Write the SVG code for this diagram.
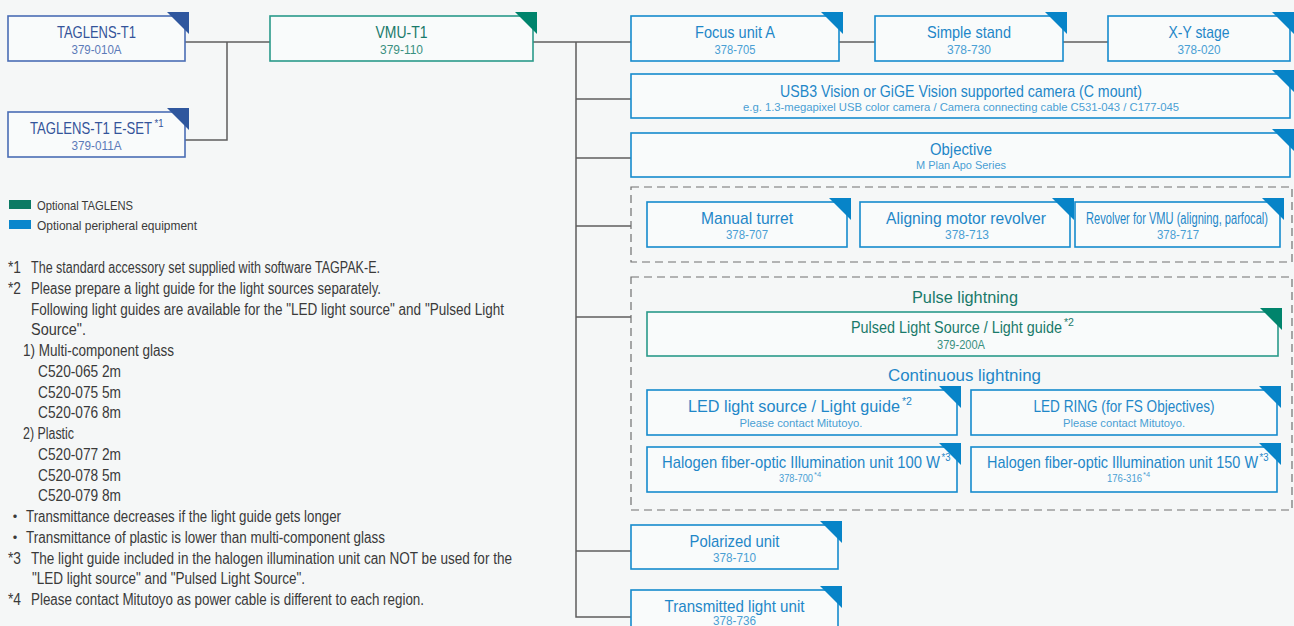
<svg xmlns="http://www.w3.org/2000/svg" width="1294" height="626" viewBox="0 0 1294 626">
<style>
text{font-family:"Liberation Sans",Arial,sans-serif}
.box{fill:#f9fbfb;stroke-width:1.6}
.ind .box{stroke:#4a6db5}.ind .tri{fill:#2f579e}.ind .t{fill:#34549a}.ind .c{fill:#5b7ab8}
.teal .box{stroke:#2a9a8a}.teal .tri{fill:#00846c}.teal .t{fill:#197a6a}.teal .c{fill:#3a9080}
.blue .box{stroke:#168bcd}.blue .tri{fill:#0784c8}.blue .t{fill:#1f87c8}.blue .c{fill:#4a9fd4}
.t{font-size:17px;text-anchor:middle}
.c{font-size:12.5px;text-anchor:middle}
.s{font-size:11.5px}
.st{text-anchor:start}
.sup{font-size:10px;text-anchor:start}
.conn{stroke:#5e5e5e;stroke-width:1.5;fill:none}
.dash{fill:none;stroke:#707070;stroke-width:1.2;stroke-dasharray:8 5}
.fn{font-size:16px;fill:#3a3a3a}
.lg{font-size:13px;fill:#3a3a3a}
.grp1{font-size:17px;text-anchor:middle}
</style>
<rect x="0" y="0" width="1294" height="626" fill="#f5f7f7"/>

<g id="connectors">
<path class="conn" d="M185,42 H270"/>
<path class="conn" d="M227,42 V140 H185"/>
<path class="conn" d="M533,42 H631"/>
<path class="conn" d="M839,42 H875"/>
<path class="conn" d="M1063,42 H1108"/>
<path class="conn" d="M576,42 V617 H631"/>
<path class="conn" d="M576,99 H631"/>
<path class="conn" d="M576,158 H631"/>
<path class="conn" d="M576,226 H631"/>
<path class="conn" d="M576,317 H631"/>
<path class="conn" d="M576,551 H631"/>
</g>

<g id="group-revolvers"><rect class="dash" x="631" y="187" width="661" height="75"/></g>
<g id="group-lighting">
<rect class="dash" x="631" y="277" width="661" height="233"/>
<text class="grp1" x="965" y="303" fill="#197a6a" textLength="106" lengthAdjust="spacingAndGlyphs">Pulse lightning</text>
<text class="grp1" x="964.5" y="381" fill="#1f87c8" textLength="153" lengthAdjust="spacingAndGlyphs">Continuous lightning</text>
</g>

<g id="taglens-t1" class="ind">
<rect class="box" x="8" y="16" width="177" height="45"/>
<polygon class="tri" points="167,12 189,12 189,34"/>
<text class="t" x="96.5" y="38" textLength="79" lengthAdjust="spacingAndGlyphs">TAGLENS-T1</text>
<text class="c" x="96.5" y="54" textLength="50" lengthAdjust="spacingAndGlyphs">379-010A</text>
</g>
<g id="taglens-t1-eset" class="ind">
<rect class="box" x="8" y="112" width="177" height="45"/>
<polygon class="tri" points="167,108 189,108 189,130"/>
<text class="t st" x="30" y="134" textLength="122" lengthAdjust="spacingAndGlyphs">TAGLENS-T1  E-SET</text>
<text class="t sup" x="154.5" y="127" textLength="9" lengthAdjust="spacingAndGlyphs">*1</text>
<text class="c" x="96.5" y="150" textLength="50" lengthAdjust="spacingAndGlyphs">379-011A</text>
</g>
<g id="vmu-t1" class="teal">
<rect class="box" x="270" y="16" width="263" height="45"/>
<polygon class="tri" points="515,12 537,12 537,34"/>
<text class="t" x="401.5" y="38" textLength="52" lengthAdjust="spacingAndGlyphs">VMU-T1</text>
<text class="c" x="401.5" y="54" textLength="43" lengthAdjust="spacingAndGlyphs">379-110</text>
</g>
<g id="focus-unit" class="blue">
<rect class="box" x="631" y="16" width="208" height="45"/>
<polygon class="tri" points="821,12 843,12 843,34"/>
<text class="t" x="735" y="38" textLength="80" lengthAdjust="spacingAndGlyphs">Focus unit A</text>
<text class="c" x="735" y="54" textLength="41" lengthAdjust="spacingAndGlyphs">378-705</text>
</g>
<g id="simple-stand" class="blue">
<rect class="box" x="875" y="16" width="188" height="45"/>
<polygon class="tri" points="1045,12 1067,12 1067,34"/>
<text class="t" x="969" y="38" textLength="84" lengthAdjust="spacingAndGlyphs">Simple stand</text>
<text class="c" x="969" y="54" textLength="44" lengthAdjust="spacingAndGlyphs">378-730</text>
</g>
<g id="xy-stage" class="blue">
<rect class="box" x="1108" y="16" width="182" height="45"/>
<polygon class="tri" points="1272,12 1294,12 1294,34"/>
<text class="t" x="1199" y="38" textLength="61" lengthAdjust="spacingAndGlyphs">X-Y stage</text>
<text class="c" x="1199" y="54" textLength="43" lengthAdjust="spacingAndGlyphs">378-020</text>
</g>
<g id="camera" class="blue">
<rect class="box" x="631" y="74" width="659" height="44"/>
<polygon class="tri" points="1272,70 1294,70 1294,92"/>
<text class="t" x="961" y="97" textLength="362" lengthAdjust="spacingAndGlyphs">USB3 Vision or GiGE Vision supported camera (C mount)</text>
<text class="c s" x="961" y="111" textLength="436" lengthAdjust="spacingAndGlyphs">e.g. 1.3-megapixel USB color camera / Camera connecting cable C531-043 / C177-045</text>
</g>
<g id="objective" class="blue">
<rect class="box" x="631" y="133" width="659" height="44"/>
<polygon class="tri" points="1272,129 1294,129 1294,151"/>
<text class="t" x="961" y="155" textLength="62" lengthAdjust="spacingAndGlyphs">Objective</text>
<text class="c s" x="961" y="169" textLength="90" lengthAdjust="spacingAndGlyphs">M Plan Apo Series</text>
</g>
<g id="manual-turret" class="blue">
<rect class="box" x="647" y="202" width="200" height="45"/>
<polygon class="tri" points="829,198 851,198 851,220"/>
<text class="t" x="747" y="224" textLength="92" lengthAdjust="spacingAndGlyphs">Manual turret</text>
<text class="c" x="747" y="239" textLength="42" lengthAdjust="spacingAndGlyphs">378-707</text>
</g>
<g id="aligning-revolver" class="blue">
<rect class="box" x="860" y="202" width="210" height="45"/>
<polygon class="tri" points="1052,198 1074,198 1074,220"/>
<text class="t" x="966" y="224" textLength="160" lengthAdjust="spacingAndGlyphs">Aligning motor revolver</text>
<text class="c" x="967" y="239" textLength="44" lengthAdjust="spacingAndGlyphs">378-713</text>
</g>
<g id="revolver-vmu" class="blue">
<rect class="box" x="1075" y="202" width="205" height="45"/>
<polygon class="tri" points="1262,198 1284,198 1284,220"/>
<text class="t" x="1177" y="224" style="font-size:16px" textLength="182" lengthAdjust="spacingAndGlyphs">Revolver for VMU (aligning, parfocal)</text>
<text class="c" x="1178" y="239" textLength="42" lengthAdjust="spacingAndGlyphs">378-717</text>
</g>
<g id="pulsed-light" class="teal">
<rect class="box" x="647" y="312" width="631" height="44"/>
<polygon class="tri" points="1260,308 1282,308 1282,330"/>
<text class="t st" x="851" y="333" textLength="211" lengthAdjust="spacingAndGlyphs">Pulsed Light Source / Light guide</text>
<text class="t sup" x="1064" y="326" textLength="10" lengthAdjust="spacingAndGlyphs">*2</text>
<text class="c" x="961" y="349" textLength="48" lengthAdjust="spacingAndGlyphs">379-200A</text>
</g>
<g id="led-light" class="blue">
<rect class="box" x="647" y="390" width="310" height="45"/>
<polygon class="tri" points="939,386 961,386 961,408"/>
<text class="t st" x="688" y="412" textLength="212" lengthAdjust="spacingAndGlyphs">LED light source / Light guide</text>
<text class="t sup" x="902" y="405" textLength="10" lengthAdjust="spacingAndGlyphs">*2</text>
<text class="c s" x="801" y="427" textLength="123" lengthAdjust="spacingAndGlyphs">Please contact Mitutoyo.</text>
</g>
<g id="led-ring" class="blue">
<rect class="box" x="971" y="390" width="306" height="45"/>
<polygon class="tri" points="1259,386 1281,386 1281,408"/>
<text class="t" x="1124" y="412" textLength="181" lengthAdjust="spacingAndGlyphs">LED RING (for FS Objectives)</text>
<text class="c s" x="1124" y="427" textLength="122" lengthAdjust="spacingAndGlyphs">Please contact Mitutoyo.</text>
</g>
<g id="halogen-100" class="blue">
<rect class="box" x="647" y="447" width="310" height="45"/>
<polygon class="tri" points="939,443 961,443 961,465"/>
<text class="t st" x="662" y="468" textLength="278" lengthAdjust="spacingAndGlyphs">Halogen fiber-optic Illumination unit 100 W</text>
<text class="t sup" x="941.5" y="461" textLength="9" lengthAdjust="spacingAndGlyphs">*3</text>
<text class="c s st" x="779" y="482" style="font-size:11px" textLength="34" lengthAdjust="spacingAndGlyphs">378-700</text>
<text class="c st" x="814" y="477" style="font-size:7.5px">*4</text>
</g>
<g id="halogen-150" class="blue">
<rect class="box" x="971" y="447" width="306" height="45"/>
<polygon class="tri" points="1259,443 1281,443 1281,465"/>
<text class="t st" x="987" y="468" textLength="271" lengthAdjust="spacingAndGlyphs">Halogen fiber-optic Illumination unit 150 W</text>
<text class="t sup" x="1259.5" y="461" textLength="9" lengthAdjust="spacingAndGlyphs">*3</text>
<text class="c s st" x="1107" y="482" style="font-size:11px" textLength="35" lengthAdjust="spacingAndGlyphs">176-316</text>
<text class="c st" x="1143" y="477" style="font-size:7.5px">*4</text>
</g>
<g id="polarized-unit" class="blue">
<rect class="box" x="631" y="525" width="207" height="44"/>
<polygon class="tri" points="820,521 842,521 842,543"/>
<text class="t" x="734.5" y="547" textLength="90" lengthAdjust="spacingAndGlyphs">Polarized unit</text>
<text class="c" x="734.5" y="562" textLength="43" lengthAdjust="spacingAndGlyphs">378-710</text>
</g>
<g id="transmitted-light-unit" class="blue">
<rect class="box" x="631" y="590" width="207" height="46"/>
<polygon class="tri" points="820,586 842,586 842,608"/>
<text class="t" x="734.5" y="612" textLength="140" lengthAdjust="spacingAndGlyphs">Transmitted light unit</text>
<text class="c" x="734.5" y="625" textLength="43" lengthAdjust="spacingAndGlyphs">378-736</text>
</g>

<g id="legend">
<rect x="9" y="200" width="22" height="9" fill="#0b7a63"/>
<text class="lg" x="37" y="210" textLength="96" lengthAdjust="spacingAndGlyphs">Optional TAGLENS</text>
<rect x="9" y="220" width="22" height="9" fill="#0a86cc"/>
<text class="lg" x="37" y="230" textLength="160" lengthAdjust="spacingAndGlyphs">Optional peripheral equipment</text>
</g>

<g id="footnotes" class="fn">
<text x="8" y="273" textLength="13" lengthAdjust="spacingAndGlyphs">*1</text>
<text x="31" y="273" textLength="349" lengthAdjust="spacingAndGlyphs">The standard accessory set supplied with software TAGPAK-E.</text>
<text x="8" y="293.5" textLength="13" lengthAdjust="spacingAndGlyphs">*2</text>
<text x="31" y="293.5" textLength="350" lengthAdjust="spacingAndGlyphs">Please prepare a light guide for the light sources separately.</text>
<text x="31" y="314.5" textLength="473" lengthAdjust="spacingAndGlyphs">Following light guides are available for the "LED light source" and "Pulsed Light</text>
<text x="31" y="335" textLength="55" lengthAdjust="spacingAndGlyphs">Source".</text>
<text x="23" y="356" textLength="151" lengthAdjust="spacingAndGlyphs">1) Multi-component glass</text>
<text x="38" y="376.5" textLength="83" lengthAdjust="spacingAndGlyphs">C520-065 2m</text>
<text x="38" y="397.5" textLength="83" lengthAdjust="spacingAndGlyphs">C520-075 5m</text>
<text x="38" y="418" textLength="83" lengthAdjust="spacingAndGlyphs">C520-076 8m</text>
<text x="23" y="439" textLength="51" lengthAdjust="spacingAndGlyphs">2) Plastic</text>
<text x="38" y="459.5" textLength="83" lengthAdjust="spacingAndGlyphs">C520-077 2m</text>
<text x="38" y="480.5" textLength="83" lengthAdjust="spacingAndGlyphs">C520-078 5m</text>
<text x="38" y="501" textLength="83" lengthAdjust="spacingAndGlyphs">C520-079 8m</text>
<text x="7" y="522" style="font-family:'Noto Sans CJK JP',sans-serif">・</text>
<text x="26" y="522" textLength="315" lengthAdjust="spacingAndGlyphs">Transmittance decreases if the light guide gets longer</text>
<text x="7" y="542.5" style="font-family:'Noto Sans CJK JP',sans-serif">・</text>
<text x="26" y="542.5" textLength="359" lengthAdjust="spacingAndGlyphs">Transmittance of plastic is lower than multi-component glass</text>
<text x="8" y="563.5" textLength="13" lengthAdjust="spacingAndGlyphs">*3</text>
<text x="31" y="563.5" textLength="481" lengthAdjust="spacingAndGlyphs">The light guide included in the halogen illumination unit can NOT be used for the</text>
<text x="32" y="584" textLength="273" lengthAdjust="spacingAndGlyphs">"LED light source" and "Pulsed Light Source".</text>
<text x="8" y="605" textLength="13" lengthAdjust="spacingAndGlyphs">*4</text>
<text x="31" y="605" textLength="393" lengthAdjust="spacingAndGlyphs">Please contact Mitutoyo as power cable is different to each region.</text>
</g>
</svg>
